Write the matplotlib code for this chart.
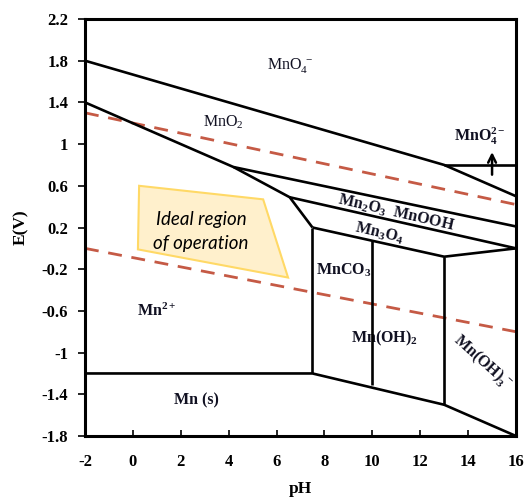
import numpy as np
import matplotlib
matplotlib.use("Agg")
import matplotlib.pyplot as plt
from matplotlib.patches import Polygon

# phase boundaries of the Mn-water(-carbonate) system, (pH, E) pairs
mno4_mno2_ph = [-2, 13, 16]
mno4_mno2_e = [1.8, 0.8, 0.5]
mno4_2_ph = [13, 16]
mno4_2_e = [0.8, 0.8]
mno2_mn2_ph = [-2, 4.2, 6.55, 7.5]
mno2_mn2_e = [1.4, 0.78, 0.49, 0.2]
mno2_mn2o3_ph = [4.2, 16]
mno2_mn2o3_e = [0.78, 0.21]
mn2o3_mn3o4_ph = [6.55, 16]
mn2o3_mn3o4_e = [0.49, 0.0]
mn3o4_low_ph = [7.5, 13, 16]
mn3o4_low_e = [0.2, -0.08, 0.0]
mn_s_ph = [-2, 7.5, 13, 16]
mn_s_e = [-1.2, -1.2, -1.5, -1.8]
mnco3_ph = [7.5, 7.5]
mnco3_e = [0.2, -1.2]
mnoh2_left_ph = [10, 10]
mnoh2_left_e = [0.07, -1.31]
mnoh2_right_ph = [13, 13]
mnoh2_right_e = [-0.08, -1.5]

# water stability lines
o2_ph = [-2, 16]
o2_e = [1.3, 0.42]
h2_ph = [-2, 16]
h2_e = [0.0, -0.8]

# operating window
ideal_ph = [0.26, 5.44, 6.48, 0.21]
ideal_e = [0.60, 0.47, -0.28, -0.01]

xticks = list(range(-2, 17, 2))
yticks = [2.2, 1.8, 1.4, 1.0, 0.6, 0.2, -0.2, -0.6, -1.0, -1.4, -1.8]
ytick_labels = ["2.2", "1.8", "1.4", "1", "0.6", "0.2", "-0.2", "-0.6", "-1", "-1.4", "-1.8"]

serif = "Liberation Serif"
plt.rcParams["mathtext.fontset"] = "custom"
plt.rcParams["mathtext.rm"] = serif
plt.rcParams["mathtext.bf"] = serif + ":bold"
plt.rcParams["mathtext.it"] = serif + ":italic"
plt.rcParams["mathtext.default"] = "rm"

fig = plt.figure(figsize=(5.26, 4.97), dpi=100)
ax = fig.add_axes([0.1616, 0.1227, 0.8194, 0.8391])

lw = 1.9
for px, ey in [(mno4_mno2_ph, mno4_mno2_e), (mno4_2_ph, mno4_2_e),
               (mno2_mn2_ph, mno2_mn2_e), (mno2_mn2o3_ph, mno2_mn2o3_e),
               (mn2o3_mn3o4_ph, mn2o3_mn3o4_e), (mn3o4_low_ph, mn3o4_low_e),
               (mn_s_ph, mn_s_e), (mnco3_ph, mnco3_e),
               (mnoh2_left_ph, mnoh2_left_e), (mnoh2_right_ph, mnoh2_right_e)]:
    ax.plot(px, ey, color="black", lw=lw, solid_capstyle="butt", zorder=3)

for px, ey in [(o2_ph, o2_e), (h2_ph, h2_e)]:
    ax.plot(px, ey, color="#C55A45", lw=2.0, dashes=(5, 3.5), zorder=2)

ax.add_patch(Polygon(np.column_stack([ideal_ph, ideal_e]), closed=True,
                     facecolor="#FFF0CC", edgecolor="#FFD966", lw=1.5, zorder=1))
ax.text(2.85, 0.16, "Ideal region\nof operation", fontsize=13.5, style="italic",
        family="Lato", ha="center", va="center", linespacing=1.5, zorder=4)

# arrow marking the MnO4 2- field
ax.annotate("", xy=(15, 0.95), xytext=(15, 0.68),
            arrowprops=dict(arrowstyle="->", lw=1.8, color="black",
                            mutation_scale=14), zorder=4)

lab = dict(family=serif, fontsize=11.5, ha="center", va="center", color="#111122", zorder=2)
ax.text(6.56, 1.75, r"$\mathrm{MnO_4^{\ -}}$", **lab)
ax.text(3.76, 1.21, r"$\mathrm{MnO_2}$", **lab)
ax.text(14.5, 1.07, r"$\mathbf{MnO_4^{2-}}$", **lab)
ax.text(11.0, 0.34, r"$\mathbf{Mn_2O_3\ \ MnOOH}$", rotation=-13, **lab)
ax.text(10.3, 0.15, r"$\mathbf{Mn_3O_4}$", rotation=-13, **lab)
ax.text(8.8, -0.21, r"$\mathbf{MnCO_3}$", **lab)
ax.text(10.5, -0.86, r"$\mathbf{Mn(OH)_2}$", **lab)
ax.text(14.6, -1.09, r"$\mathbf{Mn(OH)_3^{\ -}}$", rotation=-42, **lab)
ax.text(1.0, -0.6, r"$\mathbf{Mn^{2+}}$", **lab)
ax.text(2.65, -1.46, "Mn (s)", fontweight="bold", **lab)

ax.set_xlim(-2, 16)
ax.set_ylim(-1.8, 2.2)
ax.set_xticks(xticks)
ax.set_xticklabels([str(t) for t in xticks])
ax.set_yticks(yticks)
ax.set_yticklabels(ytick_labels)
ax.tick_params(axis="x", direction="in", length=4, width=1.2, pad=13)
ax.tick_params(axis="y", direction="out", length=5, width=1.2, pad=7)
for lbl in ax.get_xticklabels() + ax.get_yticklabels():
    lbl.set_family(serif)
    lbl.set_fontweight("bold")
    lbl.set_fontsize(12)
for s in ax.spines.values():
    s.set_linewidth(2.2)

ax.set_xlabel("pH", family=serif, fontweight="bold", fontsize=12.5, labelpad=8)
ax.set_ylabel("E(V)", family=serif, fontweight="bold", fontsize=12.5, labelpad=9)

fig.savefig("out.png", dpi=100)
